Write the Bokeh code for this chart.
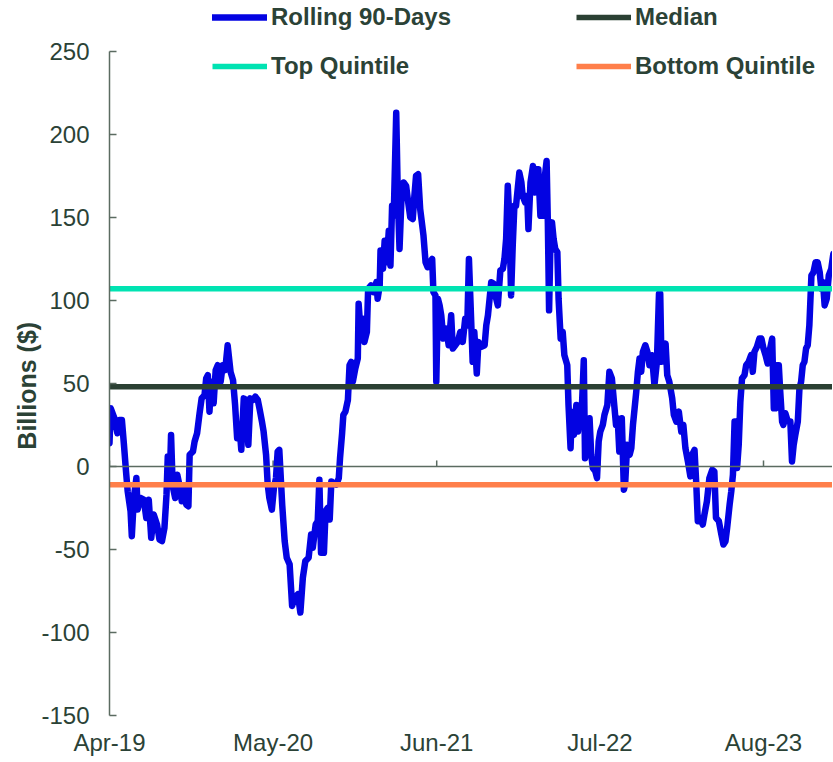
import numpy as np
from bokeh.plotting import figure
from bokeh.models import (Range1d, Span, Legend, LegendItem, FixedTicker,
                          DatetimeTickFormatter, ColumnDataSource)
from bokeh.embed import file_html
from bokeh.resources import INLINE

# ---------------- data ----------------
start_date = "2019-04-01"
end_date = "2024-01-15"

# days since start_date
day_offsets = [
    0, 3, 12, 19, 24, 30, 35, 40, 44, 51, 54, 59, 65, 68, 75, 83, 89, 95, 101, 107,
    115, 121, 127, 133, 138, 141, 146, 149, 153, 159, 164, 169, 175, 180, 186, 191,
    194, 202, 206, 212, 218, 223, 230, 234, 238, 242, 246, 252, 257, 262, 269, 274,
    280, 286, 293, 299, 304, 309, 315, 319, 325, 331, 336, 341, 347, 353, 359, 363,
    369, 373, 379, 383, 387, 393, 398, 403, 407,
    411, 418, 424, 429, 436, 442, 448, 456, 462, 468, 474, 482, 488, 492, 499, 504,
    508, 512, 519, 523, 528, 533, 537, 542, 549, 555, 558, 563, 566, 571, 577, 581,
    585, 589, 595, 601, 603, 609, 613, 617, 623, 626, 633, 639, 646, 649, 654, 656,
    662, 666, 671, 676, 680, 684, 688, 694, 698, 702, 707, 712, 718, 723, 728, 734,
    738, 742, 747, 752, 757, 760, 765, 770, 776, 781, 784, 789, 791, 795, 799, 803,
    808, 815, 821, 827, 831, 837, 843, 849, 855, 861, 866, 870,
    879, 883, 889, 893, 900, 908, 912, 916, 920, 924, 930, 936, 940, 946, 952, 956,
    960, 964, 968, 972, 976, 980, 984, 988, 992, 997, 1000, 1006, 1011, 1014, 1019,
    1025, 1029, 1033, 1038, 1043, 1049, 1053, 1058, 1061, 1064, 1067, 1071, 1075,
    1079, 1084, 1087, 1092, 1097, 1101, 1108, 1111, 1116, 1119, 1124, 1130, 1134,
    1138, 1142, 1148, 1151, 1156, 1162, 1166, 1170, 1176, 1180, 1184, 1188, 1194,
    1198, 1205, 1210, 1216, 1221, 1226, 1230, 1234, 1240, 1245, 1248, 1253, 1259,
    1263, 1267, 1271, 1275, 1279, 1283, 1287, 1291, 1297, 1302, 1307, 1313,
    1319, 1325, 1330, 1333, 1336, 1341, 1346, 1350, 1355, 1362, 1366, 1372, 1378,
    1384, 1389, 1394, 1400, 1406, 1410, 1416, 1420, 1424, 1430, 1436, 1440, 1446,
    1452, 1459, 1464, 1468, 1475, 1481, 1486, 1491, 1495, 1501, 1505, 1509, 1513,
    1517, 1519, 1523, 1527, 1531, 1537, 1541, 1547, 1553, 1557, 1561, 1567, 1573,
    1578, 1583, 1588, 1593, 1599, 1604, 1608, 1612, 1615, 1620, 1623, 1628, 1631,
    1636, 1642, 1648, 1652, 1656, 1660, 1666, 1670, 1674, 1678, 1682, 1686, 1690,
    1694, 1697, 1699, 1704, 1709, 1714, 1719, 1723, 1727, 1731, 1736, 1741, 1747, 1752,
]

rolling_90d = [
    14, 35, 29, 20, 28, 28, 13, -3, -15, -27, -42, -19, -7, -26, -19, -20, -31, -20, -43, -29,
    -35, -44, -45, -37, -17, 6, -7, 19, -12, -19, -5, -11, -21, -14, -23, -24,
    7, 9, 15, 20, 32, 41, 43, 53, 55, 33, 51, 38, 58, 61, 51, 61,
    58, 73, 57, 52, 37, 17, 23, 10, 41, 40, 13, 41, 40, 42, 40, 35,
    27, 21, 7, -11, -19, -26, -13, -7, 9,
    10, -23, -45, -55, -59, -84, -79, -77, -88, -67, -57, -55, -41, -49, -35, -33,
    -8, -52, -52, -27, -25, -32, -9, -10, -11, -7, 5, 20, 31, 33, 40, 61,
    63, 51, 59, 65, 98, 77, 89, 75, 81, 107, 109, 105, 111, 101, 109, 130,
    119, 136, 123, 142, 121, 157, 151, 213, 161, 131, 163, 171, 169, 159, 150, 149,
    163, 175, 176, 155, 145, 139, 123, 120, 123, 125, 105, 103, 51, 101, 97, 91,
    77, 83, 73, 91, 71, 73, 75, 81, 75, 89, 85, 125,
    63, 81, 56, 75, 72, 73, 85, 91, 101, 111, 110, 101, 97, 118, 119, 125,
    137, 169, 149, 103, 133, 157, 157, 167, 177, 171, 163, 159, 163, 143, 171,
    181, 165, 179, 179, 151, 151, 173, 184, 147, 94, 131, 147, 137,
    131, 129, 101, 77, 81, 67, 61, 37, 11, 33, 19, 37, 21,
    33, 27, 64, 5, 17, 29, 7, -1, -3, -7, 15, 21, 25,
    31, 37, 57, 53, 39, 25, 29, 9, 29, -14, -11, 13, 7,
    11, 25, 35, 45, 57, 65, 57, 69, 73, 69, 61, 67,
    49, 63, 104, 104, 63, 67, 74, 55, 51, 41, 31, 27, 33,
    21, 25, 11, 3, -6, 7, 10, -9, -33, -31, -35, -29, -21,
    -7, -2, -3, -31, -33, -41, -47, -45, -37, -23, -15, -5, 27,
    27, -1, 13, 39, 53, 55, 61, 63, 67, 57, 69, 72, 77,
    77, 71, 67, 62, 71, 77, 35, 35, 61, 61, 47, 27, 25,
    32, 27, 27, 3, 13, 19, 27, 47, 51, 61, 63, 71, 73,
    85, 103, 115, 117, 123, 123, 117, 107, 111, 97, 101, 115, 119, 128,
]

median_level = [48]
top_quintile_level = [107]
bottom_quintile_level = [-11]

x_tick_dates = ["2019-04-01", "2020-05-01", "2021-06-01", "2022-07-01", "2023-08-01"]
y_ticks = [-150, -100, -50, 0, 50, 100, 150, 200, 250]
y_axis_min, y_axis_max = -150, 250
y_title = "Billions ($)"

# ---------------- styling / layout ----------------
FONT = "Liberation Sans"
TEXT = "#2B4236"
AXIS = "#5B6B61"
BLUE = "#0303E2"
TEAL = "#00E3B2"
DARK = "#2B4033"
ORANGE = "#FF7F4A"

FRAME_TOP_GAP = 51      # px between frame top and the 250 tick
FRAME_AXIS_H = 666      # px from 250 to -150

EPOCH = np.datetime64("1970-01-01T00:00:00", "ms")


def to_ms(d):
    return float((np.datetime64(d, "ms") - EPOCH) / np.timedelta64(1, "ms"))


dates = np.datetime64(start_date) + np.array(day_offsets).astype("timedelta64[D]")
x0, x1 = to_ms(start_date), to_ms(end_date)
tick_ms = [to_ms(d) for d in x_tick_dates]
units_per_px = (y_axis_max - y_axis_min) / FRAME_AXIS_H
y_top = y_axis_max + FRAME_TOP_GAP * units_per_px

p = figure(width=832, height=758, x_axis_type="datetime",
           x_range=Range1d(x0, x1), y_range=Range1d(y_axis_min, y_top),
           output_backend="svg", toolbar_location=None,
           min_border_left=109, min_border_right=0, min_border_top=0, min_border_bottom=41)
p.outline_line_color = None
p.xgrid.grid_line_color = None
p.ygrid.grid_line_color = None
p.background_fill_color = "white"

# zero line with small upward ticks
p.add_layout(Span(location=0, dimension="width", line_color=AXIS, line_width=1.5))
p.ray(x=tick_ms, y=[0] * len(tick_ms), length=6, length_units="screen",
      angle=np.pi / 2, line_color=AXIS, line_width=1.5)

src = ColumnDataSource(dict(x=dates, y=rolling_90d))
r_roll = p.line("x", "y", source=src, line_color=BLUE, line_width=6.5,
                line_join="round", line_cap="round")

r_med = p.line([x0, x1], median_level * 2, line_color=DARK, line_width=5.5)
r_top = p.line([x0, x1], top_quintile_level * 2, line_color=TEAL, line_width=5.5)
r_bot = p.line([x0, x1], bottom_quintile_level * 2, line_color=ORANGE, line_width=5.5)

# x axis: labels only
xa = p.xaxis[0]
xa.ticker = FixedTicker(ticks=tick_ms)
xa.formatter = DatetimeTickFormatter(days="%b-%y", months="%b-%y", years="%b-%y")
xa.axis_line_color = None
xa.major_tick_line_color = None
xa.minor_tick_line_color = None
xa.major_tick_in = 0
xa.major_tick_out = 0
xa.major_label_standoff = 13
xa.major_label_text_font = FONT
xa.major_label_text_font_size = "24px"
xa.major_label_text_color = TEXT

ya = p.yaxis[0]
ya.ticker = FixedTicker(ticks=y_ticks)
ya.major_label_overrides = {v: str(v) for v in y_ticks}
ya.bounds = (y_axis_min, y_axis_max)
ya.axis_line_color = AXIS
ya.axis_line_width = 1.5
ya.major_tick_line_color = AXIS
ya.major_tick_line_width = 1.5
ya.major_tick_in = 7
ya.major_tick_out = 0
ya.minor_tick_line_color = None
ya.major_label_standoff = 20
ya.major_label_text_font = FONT
ya.major_label_text_font_size = "24px"
ya.major_label_text_color = TEXT
# trailing no-break spaces centre the visible title on the -150..250 span
ya.axis_label = y_title + "\u00a0" * 8
ya.axis_label_standoff = -3
ya.axis_label_text_font = FONT
ya.axis_label_text_font_size = "25px"
ya.axis_label_text_font_style = "bold"
ya.axis_label_text_color = TEXT


def make_legend(items, loc):
    return Legend(items=items, location=loc, orientation="vertical",
                  glyph_width=55, glyph_height=20, label_height=20, label_standoff=4,
                  padding=0, margin=0, spacing=21, border_line_color=None,
                  background_fill_alpha=0, label_text_font=FONT,
                  label_text_font_style="bold", label_text_font_size="24px",
                  label_text_color=TEXT)


leg1 = make_legend([LegendItem(label="Rolling 90-Days", renderers=[r_roll]),
                    LegendItem(label="Top Quintile", renderers=[r_top])], (103, 635))
leg2 = make_legend([LegendItem(label="Median", renderers=[r_med]),
                    LegendItem(label="Bottom Quintile", renderers=[r_bot])], (467, 635))
p.add_layout(leg1, "center")
p.add_layout(leg2, "center")

open("out.html", "w").write(file_html(p, INLINE))
